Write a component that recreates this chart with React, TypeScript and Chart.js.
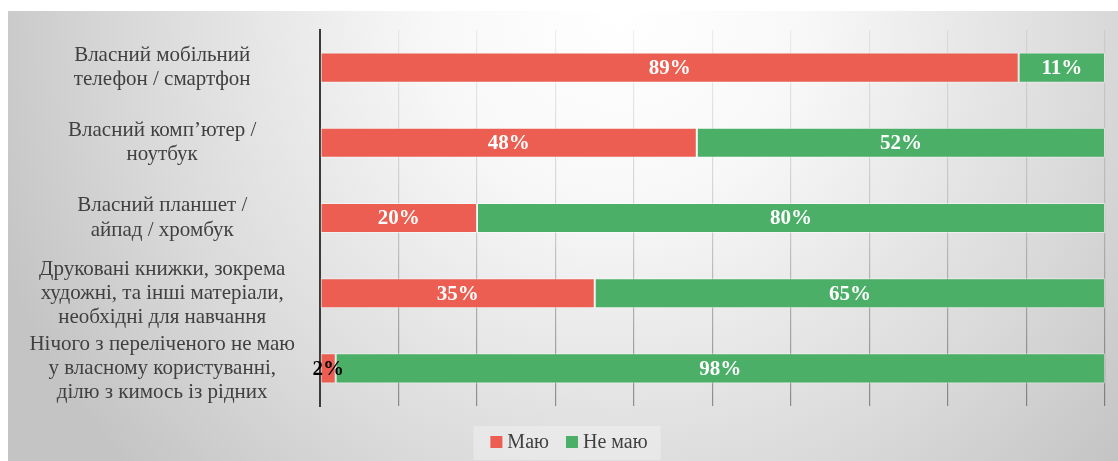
import React, { useEffect, useRef } from "react";
import { Chart, registerables } from "chart.js";

Chart.register(...registerables);

const categories: string[][] = [
  ["Власний мобільний", "телефон / смартфон"],
  ["Власний комп’ютер /", "ноутбук"],
  ["Власний планшет /", "айпад / хромбук"],
  ["Друковані книжки, зокрема", "художні, та інші матеріали,", "необхідні для навчання"],
  ["Нічого з переліченого не маю", "у власному користуванні,", "ділю з кимось із рідних"],
];
const haveValues: number[] = [89, 48, 20, 35, 2];
const notHaveValues: number[] = [11, 52, 80, 65, 98];
const seriesNames: string[] = ["Маю", "Не маю"];
const seriesColors: string[] = ["#EB5E51", "#4CAF68"];

const SERIF = '"Liberation Serif", "Times New Roman", serif';

const labelPlugin = {
  id: "valueLabels",
  afterDraw(chart: any) {
    const ctx = chart.ctx;
    ctx.save();
    chart.data.datasets.forEach((ds: any, di: number) => {
      const meta = chart.getDatasetMeta(di);
      meta.data.forEach((bar: any, i: number) => {
        const v = ds.data[i];
        const p = bar.getProps(["x", "base", "y"], true);
        const cx = (p.x + p.base) / 2;
        ctx.fillStyle = v < 5 ? "#000000" : "#ffffff";
        ctx.font = `bold 21px ${SERIF}`;
        ctx.textAlign = "center";
        ctx.textBaseline = "middle";
        ctx.fillText(v + "%", cx, p.y + 1);
      });
    });
    ctx.restore();
  },
};

const legendPlugin = {
  id: "customLegend",
  afterDraw(chart: any) {
    const ctx = chart.ctx;
    ctx.save();
    ctx.font = `20px ${SERIF}`;
    const box = 12;
    const gapText = 5;
    const gapItem = 17;
    const items = chart.data.datasets.map((d: any) => ({
      text: d.label,
      color: d.backgroundColor,
      w: ctx.measureText(d.label).width,
    }));
    let total = 0;
    items.forEach((it: any, i: number) => {
      total += box + gapText + it.w + (i < items.length - 1 ? gapItem : 0);
    });
    const cx = chart.width / 2 + 6;
    let x = cx - total / 2;
    const cy = 431;
    ctx.fillStyle = "rgba(255,255,255,0.3)";
    ctx.fillRect(x - 17, 415, total + 30, 34);
    items.forEach((it: any) => {
      ctx.fillStyle = it.color;
      ctx.fillRect(x, cy - box / 2, box, box);
      x += box + gapText;
      ctx.fillStyle = "#404040";
      ctx.textAlign = "left";
      ctx.textBaseline = "middle";
      ctx.fillText(it.text, x, cy + 1);
      x += it.w + gapItem;
    });
    ctx.restore();
  },
};

export default function App() {
  const ref = useRef<HTMLCanvasElement | null>(null);

  useEffect(() => {
    if (!ref.current) return;
    const chart = new Chart(ref.current, {
      type: "bar",
      data: {
        labels: categories,
        datasets: [
          {
            label: seriesNames[0],
            data: haveValues,
            backgroundColor: seriesColors[0],
            borderColor: "rgba(255,255,255,0.45)",
            borderWidth: 1,
            borderSkipped: false,
            barPercentage: 0.5,
            categoryPercentage: 0.8,
          },
          {
            label: seriesNames[1],
            data: notHaveValues,
            backgroundColor: seriesColors[1],
            borderColor: "rgba(255,255,255,0.45)",
            borderWidth: 1,
            borderSkipped: false,
            barPercentage: 0.5,
            categoryPercentage: 0.8,
          },
        ],
      },
      options: {
        indexAxis: "y",
        animation: false,
        responsive: false,
        maintainAspectRatio: false,
        layout: { padding: { top: 19, right: 13, bottom: 55, left: 0 } },
        plugins: {
          legend: { display: false },
          tooltip: { enabled: false },
          title: { display: false },
        },
        scales: {
          x: {
            stacked: true,
            min: 0,
            max: 100,
            z: 1,
            afterFit: (s: any) => {
              s.height = 0;
              s.paddingLeft = 0;
              s.paddingRight = 0;
            },
            ticks: { display: false, stepSize: 10 },
            border: { display: false },
            grid: {
              drawTicks: false,
              lineWidth: 1.2,
              color: (c: any) => {
                const ch = c.chart;
                const area = ch.chartArea;
                if (!area) return "rgba(0,0,0,0.15)";
                const g = ch.ctx.createLinearGradient(0, area.top, 0, area.bottom);
                g.addColorStop(0, "rgba(0,0,0,0.06)");
                g.addColorStop(0.5, "rgba(0,0,0,0.15)");
                g.addColorStop(1, "rgba(0,0,0,0.38)");
                return g;
              },
            },
          },
          y: {
            stacked: true,
            afterFit: (s: any) => {
              s.width = 312;
              s.paddingTop = 0;
              s.paddingBottom = 0;
            },
            border: { display: true, color: "#3a3a3a", width: 2 },
            grid: { display: false, drawTicks: false },
            ticks: {
              autoSkip: false,
              crossAlign: "center",
              padding: 25,
              color: "#404040",
              font: { family: SERIF, size: 21, lineHeight: 1.15 },
            },
          },
        },
      },
      plugins: [labelPlugin, legendPlugin],
    });
    return () => chart.destroy();
  }, []);

  return (
    <div
      style={{
        position: "absolute",
        left: 8,
        top: 11,
        width: 1110,
        height: 450,
        background:
          "radial-gradient(ellipse 60% 150% at 55% 0%, #ffffff 0%, #f8f8f8 28%, #dadada 72%, #c4c4c4 100%)",
      }}
    >
      <canvas ref={ref} width={1110} height={450} style={{ display: "block" }} />
    </div>
  );
}
